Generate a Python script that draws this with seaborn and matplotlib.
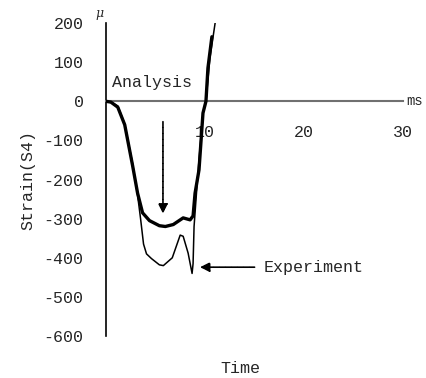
import matplotlib
matplotlib.use("Agg")
import matplotlib.pyplot as plt
import seaborn as sns
import pandas as pd

time_analysis = [0, 0.5, 1.2, 1.9, 2.7, 3.2, 3.7, 4.4, 5.4, 6.0, 6.8, 7.8, 8.5, 8.8, 9.0, 9.4, 9.8, 10.1, 10.3, 10.7]
strain_analysis = [0, -2, -15, -60, -165, -235, -285, -305, -318, -320, -315, -298, -303, -293, -235, -175, -30, 0, 85, 165]

time_experiment = [0, 0.5, 1.2, 1.9, 2.7, 3.2, 3.5, 3.8, 4.1, 4.6, 5.4, 5.8, 6.7, 7.5, 7.8, 8.3, 8.7, 8.8, 8.9, 9.3, 9.8, 10.1, 10.5, 11.2]
strain_experiment = [0, -2, -12, -58, -160, -240, -300, -365, -390, -402, -418, -420, -400, -342, -345, -388, -440, -415, -320, -180, -30, 0, 110, 230]

x_ticks = [10, 20, 30]
y_ticks = [200, 100, 0, -100, -200, -300, -400, -500, -600]

sns.set_style("white")
FONT = ["Liberation Mono", "DejaVu Sans"]
plt.rcParams["font.family"] = FONT

fig = plt.figure(figsize=(4.27, 3.78), dpi=100)
ax = fig.add_axes([0.248, 0.111, 0.696, 0.828])

df_a = pd.DataFrame({"t": time_analysis, "s": strain_analysis})
df_e = pd.DataFrame({"t": time_experiment, "s": strain_experiment})
sns.lineplot(data=df_e, x="t", y="s", ax=ax, color="black", lw=1.1, sort=False, zorder=3)
sns.lineplot(data=df_a, x="t", y="s", ax=ax, color="black", lw=2.4, sort=False, zorder=3)

ax.set_xlim(0, 30)
ax.set_ylim(-600, 200)
ax.spines["top"].set_visible(False)
ax.spines["right"].set_visible(False)
ax.spines["bottom"].set_position(("data", 0))
ax.spines["bottom"].set_color("#707070")
ax.spines["bottom"].set_linewidth(1.5)
ax.spines["left"].set_color("black")
ax.spines["left"].set_linewidth(1.2)

ax.set_xticks(x_ticks)
ax.set_xticklabels([str(v) for v in x_ticks])
ax.set_yticks(y_ticks)
ax.set_yticklabels([str(v) for v in y_ticks])
ax.tick_params(axis="x", direction="in", length=4, width=1, color="#707070", pad=17, labelsize=12)
ax.tick_params(axis="y", direction="in", length=5, width=1, color="black", pad=16, labelsize=12)

ax.set_xlabel("")
ax.set_ylabel("Strain(S4)", fontsize=12, labelpad=6)
fig.text(0.562, 0.024, "Time", fontsize=12, ha="center", va="center")
fig.text(0.234, 0.965, "μ", fontsize=9, ha="center", va="center", style="italic", family=["DejaVu Serif"])
ax.text(30.3, 0, "ms", fontsize=10, ha="left", va="center")

ax.text(0.6, 28, "Analysis", fontsize=12, ha="left", va="bottom")
ax.annotate("", xy=(5.76, -294), xytext=(5.76, -45),
            arrowprops=dict(arrowstyle="-|>", color="black", lw=1.2, mutation_scale=14, ls=(0, (3, 0.6))))
ax.annotate("Experiment", xy=(9.5, -424), xytext=(15.9, -424), fontsize=12, va="center", ha="left",
            arrowprops=dict(arrowstyle="-|>", color="black", lw=1.2, mutation_scale=14, ls=(0, (3, 0.6)),
                            shrinkA=4, shrinkB=0))

fig.savefig("out.png", dpi=100)
